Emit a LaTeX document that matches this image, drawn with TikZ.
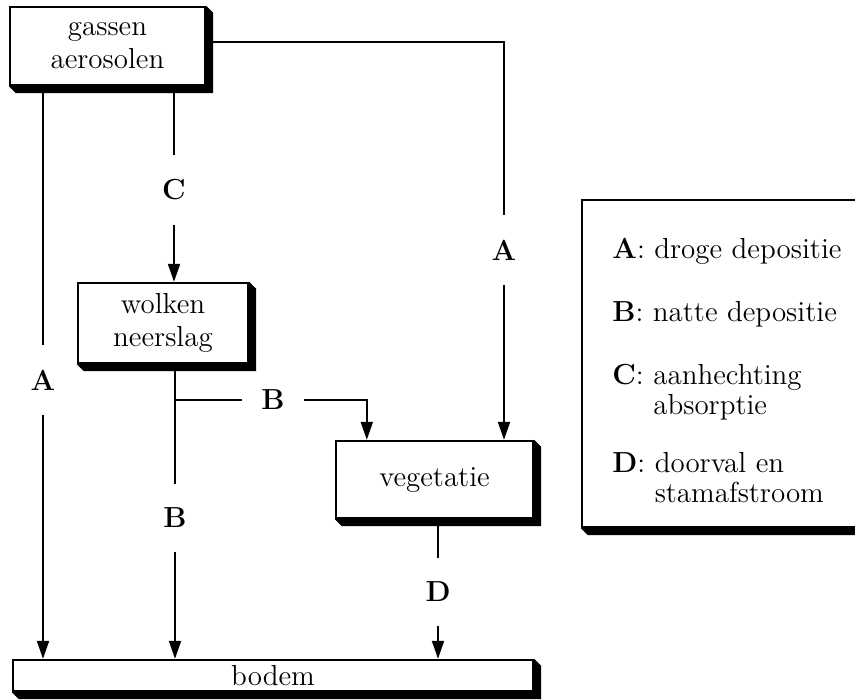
\documentclass[tikz,border=0pt]{standalone}
\usetikzlibrary{arrows.meta,calc,positioning}
\begin{document}
\begin{tikzpicture}[x=0.5pt, y=-0.5pt,
		blok/.style = {draw=black, line width=1.2pt, fill=white, align=center, inner sep=0pt, font=\fontsize{14.5}{16.5}\selectfont},
		letter/.style = {font=\fontsize{14.5}{16.5}\selectfont\bfseries, inner xsep=9.5pt, inner ysep=12pt},
		uitleg/.style = {anchor=west, inner sep=0pt, align=left, font=\fontsize{14.5}{15}\selectfont},
		lijn/.style = {line width=1pt},
		pijl/.style = {lijn, -{Triangle[length=9pt,width=6pt]}}]
	\clip (0,0) rectangle (855,700);
	% blokken
	\node [blok, minimum width=97.5pt, minimum height=39pt] (gas) at (107.5,46) {gassen\\aerosolen};
	\node [blok, minimum width=85pt, minimum height=40pt] (wol) at (163,323) {wolken\\neerslag};
	\node [blok, minimum width=98.5pt, minimum height=38.5pt] (veg) at (434.5,479.5) {vegetatie};
	\node [blok, minimum width=260pt, minimum height=15.5pt] (bod) at (273,675.5) {bodem};
	\node [blok, minimum width=144pt, minimum height=163.5pt] (leg) at (726,363.5) {};
	% letters bij de stromen
	\node [letter] (labAl) at (43,380) {A};
	\node [letter] (labAr) at (504,250) {A};
	\node [letter] (labC) at (174,190) {C};
	\node [letter] (labBv) at (175,518) {B};
	\node [letter] (labBh) at (273,400) {B};
	\node [letter] (labD) at (438,592) {D};
	% stromen
	\draw [lijn] (gas.south -| labAl) -- (labAl);
	\draw [pijl] (labAl) -- (bod.north -| labAl);
	\draw [lijn] ([yshift=2pt]gas.east) -| (labAr);
	\draw [pijl] (labAr) -- (veg.north -| labAr);
	\draw [lijn] (gas.south -| labC) -- (labC);
	\draw [pijl] (labC) -- (wol.north -| labC);
	\draw [lijn] (wol.south -| labBv) -- (labBv);
	\draw [pijl] (labBv) -- (bod.north -| labBv);
	\coordinate (tak) at (labBv |- labBh);
	\draw [lijn] (tak) -- (labBh);
	\draw [pijl] (labBh) -| ([xshift=16pt]veg.north west);
	\draw [lijn] (veg.south -| labD) -- (labD);
	\draw [pijl] (labD) -- (bod.north -| labD);
	% schaduw onder en rechts van de blokken
	\foreach \n in {gas,wol,veg,bod,leg}
		\fill (\n.north east) -- ++(7,7) -- ($(\n.south east)+(7,7)$) -- ($(\n.south west)+(7,7)$) -- (\n.south west) -- (\n.south east) -- cycle;
	% legenda
	\node [uitleg] (legA) at (612,251) {\textbf{A}: droge depositie};
	\node [uitleg] (legB) at (612,314) {\textbf{B}: natte depositie};
	\node [uitleg] (legC) at (612,392) {\textbf{C}: aanhechting\\\hphantom{\textbf{C}:~}absorptie};
	\node [uitleg] (legD) at (612,478) {\textbf{D}: doorval en\\\hphantom{\textbf{D}:~}stamafstroom};
\end{tikzpicture}
\end{document}
